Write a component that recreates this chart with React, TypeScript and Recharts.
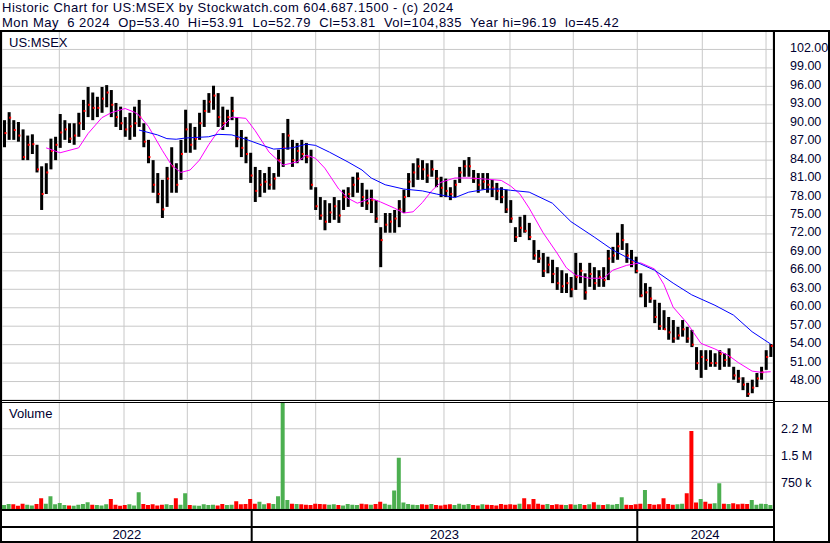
import React from 'react';
import { ComposedChart, Bar, Line, XAxis, YAxis, CartesianGrid, Cell, ReferenceLine } from 'recharts';

// one bar = 3 trading days, May 2022 .. May 6 2024
const highs = [
  90.5, 91.8, 90.5, 90.2, 89.0, 88.0, 88.2, 86.5, 83.0, 83.5,
  87.5, 87.8, 91.5, 90.5, 90.0, 90.0, 91.7, 93.8, 95.9, 95.0,
  94.3, 95.9, 96.2, 95.4, 93.3, 92.7, 91.0, 91.7, 92.7, 93.8,
  90.0, 87.3, 84.0, 81.9, 80.8, 82.9, 86.1, 83.5, 87.3, 92.2,
  90.0, 89.4, 91.7, 93.8, 94.9, 96.1, 94.9, 92.7, 92.2, 94.3,
  91.0, 88.9, 87.8, 85.2, 82.9, 82.4, 81.9, 82.9, 81.9, 85.7,
  88.4, 90.7, 87.3, 86.8, 87.3, 86.8, 85.7, 79.6, 78.0, 77.5,
  77.0, 78.0, 77.5, 79.2, 79.6, 81.3, 82.0, 80.3, 79.2, 79.2,
  77.5, 73.1, 75.4, 75.4, 75.9, 77.5, 79.2, 81.9, 83.5, 84.3,
  84.0, 83.5, 84.0, 82.4, 81.3, 81.0, 79.6, 80.8, 82.9, 84.0,
  84.5, 82.4, 81.9, 81.9, 81.9, 80.8, 80.3, 79.6, 79.2, 77.5,
  73.1, 74.8, 75.1, 73.8, 71.0, 69.4, 68.9, 68.3, 67.8, 66.6,
  66.1, 65.6, 65.0, 68.9, 67.3, 65.6, 67.3, 66.6, 66.1, 66.6,
  69.4, 69.9, 72.2, 73.6, 70.5, 69.4, 68.3, 65.6, 64.0, 63.4,
  61.3, 60.8, 59.6, 58.5, 58.0, 56.9, 58.0, 56.9, 56.4, 53.6,
  53.1, 53.1, 53.1, 52.6, 53.1, 52.6, 53.4, 50.4, 49.9, 48.7,
  47.8, 48.3, 49.4, 50.4, 53.1, 54.1,
];
const lows = [
  86.1, 87.3, 87.3, 87.0, 84.0, 84.0, 85.0, 82.0, 75.9, 78.5,
  82.5, 84.0, 86.0, 87.3, 86.8, 86.5, 87.8, 88.9, 91.0, 90.5,
  91.0, 91.7, 92.6, 91.0, 89.4, 88.9, 87.8, 87.3, 87.8, 89.4,
  86.1, 83.5, 78.7, 77.0, 74.6, 76.4, 78.7, 78.7, 80.8, 85.2,
  85.2, 85.7, 87.3, 89.4, 91.7, 92.2, 89.4, 88.9, 89.4, 90.5,
  86.1, 84.5, 83.5, 80.3, 77.2, 78.0, 78.7, 79.2, 79.2, 81.3,
  82.9, 85.7, 82.9, 83.5, 84.0, 83.5, 79.2, 75.9, 74.3, 72.6,
  73.8, 74.3, 73.8, 75.9, 76.4, 78.0, 78.7, 76.4, 75.9, 75.4,
  73.8, 66.6, 72.2, 72.2, 72.2, 73.1, 75.4, 78.0, 79.6, 80.8,
  80.8, 80.3, 81.3, 79.6, 78.0, 78.0, 77.5, 78.0, 80.3, 81.3,
  81.3, 80.3, 78.7, 79.2, 78.7, 78.0, 77.5, 77.0, 75.4, 73.8,
  70.7, 71.5, 72.2, 71.0, 67.8, 67.3, 65.0, 65.6, 64.0, 62.9,
  62.4, 62.4, 61.7, 62.9, 64.0, 61.3, 63.4, 62.9, 63.4, 63.4,
  64.5, 67.3, 67.8, 69.4, 67.3, 66.6, 65.6, 61.7, 60.1, 60.8,
  57.5, 56.4, 56.4, 54.8, 54.3, 54.8, 55.3, 54.3, 53.6, 49.9,
  48.6, 49.9, 50.4, 50.4, 49.9, 50.4, 50.4, 48.3, 47.8, 46.6,
  45.5, 46.1, 47.1, 48.3, 49.9, 52.0,
];
const closes = [
  88.4, 90.9, 88.9, 88.0, 84.5, 86.5, 86.6, 82.5, 78.5, 82.0,
  85.5, 86.5, 88.5, 89.0, 87.5, 88.0, 90.0, 92.0, 93.0, 92.5,
  92.5, 94.0, 95.0, 93.0, 91.0, 90.0, 89.0, 89.5, 90.0, 91.0,
  87.0, 84.5, 80.0, 78.5, 76.0, 81.0, 83.0, 80.0, 85.0, 89.0,
  86.5, 87.5, 90.0, 92.0, 93.5, 94.5, 91.0, 90.0, 91.0, 92.0,
  87.5, 86.0, 85.0, 81.5, 79.0, 80.0, 80.5, 80.0, 81.0, 84.0,
  86.0, 88.0, 84.0, 85.5, 85.0, 84.5, 80.0, 76.5, 75.0, 74.0,
  75.5, 76.5, 75.0, 78.0, 78.5, 80.0, 81.0, 78.0, 77.0, 77.5,
  74.5, 71.0, 73.5, 74.0, 74.5, 76.0, 78.0, 80.5, 82.0, 83.0,
  82.5, 81.5, 82.5, 81.0, 79.5, 79.0, 78.5, 80.0, 82.0, 83.0,
  83.0, 81.0, 80.0, 80.5, 80.0, 79.5, 79.0, 78.0, 76.0, 74.5,
  71.5, 73.0, 72.5, 71.5, 68.5, 68.0, 66.0, 67.0, 65.5, 64.0,
  63.5, 64.0, 63.0, 65.0, 66.0, 62.5, 65.5, 64.0, 65.0, 64.5,
  68.0, 68.5, 70.0, 71.0, 68.5, 67.5, 66.0, 62.0, 62.5, 61.5,
  58.5, 57.0, 56.5, 56.0, 55.0, 55.5, 56.5, 55.0, 54.0, 51.0,
  52.0, 51.5, 51.0, 51.0, 52.5, 51.5, 52.0, 49.0, 48.5, 47.5,
  46.0, 47.0, 48.5, 49.5, 52.0, 53.8,
];
// thousands of shares
const volumes = [
  110, 140, 130, 90, 150, 120, 100, 140, 300, 150,
  360, 130, 170, 110, 100, 90, 120, 140, 190, 120,
  110, 100, 130, 280, 120, 90, 110, 130, 100, 470,
  140, 110, 130, 100, 120, 130, 110, 300, 120, 440,
  110, 100, 90, 130, 110, 120, 100, 140, 110, 120,
  220, 130, 140, 280, 150, 200, 130, 160, 140, 360,
  2990, 250, 150, 140, 130, 120, 110, 150, 140, 130,
  120, 130, 110, 100, 140, 120, 110, 150, 130, 120,
  140, 200, 150, 120, 520, 1440, 180, 140, 120, 110,
  130, 120, 140, 110, 100, 120, 130, 110, 150, 120,
  140, 110, 100, 130, 120, 110, 100, 140, 120, 130,
  120, 150, 300, 130, 280, 150, 120, 140, 110, 130,
  120, 110, 130, 120, 140, 110, 130, 190, 120, 110,
  130, 120, 140, 330, 120, 110, 130, 150, 530, 140,
  120, 130, 300, 140, 120, 130, 150, 440, 2190, 180,
  280, 200, 150, 160, 720, 150, 140, 160, 130, 150,
  140, 250, 120, 150, 140, 110,
];
// moving averages: [bar, value]
const maFast: [number, number][] = [
  [9, 86.0], [12, 85.2], [16, 86.0], [18, 88.3], [21, 90.9], [23, 91.7], [26, 92.4], [28, 91.8],
  [29, 91.3], [31, 89.5], [34, 85.6], [36, 83.2], [38, 82.0], [40, 82.4], [42, 84.0], [44, 86.5],
  [46, 88.7], [49, 91.0], [52, 90.8], [54, 88.8], [57, 85.3], [60, 83.2], [63, 83.7], [65, 84.8],
  [67, 84.3], [69, 82.7], [72, 79.3], [74, 77.8], [76, 77.0], [79, 77.8], [81, 77.2], [84, 76.2],
  [86, 75.4], [88, 75.6], [90, 77.1], [92, 79.0], [94, 80.4], [97, 81.1], [100, 81.1], [104, 80.9],
  [107, 80.7], [109, 79.8], [111, 78.5], [113, 76.2], [116, 72.2], [119, 68.9], [121, 66.5], [123, 65.3],
  [126, 64.8], [129, 64.8], [131, 66.1], [134, 66.9], [137, 67.3], [140, 66.3], [142, 63.8], [144, 60.1],
  [147, 57.5], [150, 54.2], [153, 53.3], [156, 52.2], [158, 51.1], [161, 49.7], [163, 49.5], [165, 49.6],
];
const maSlow: [number, number][] = [
  [29, 88.9], [33, 88.1], [35, 87.5], [37, 87.4], [39, 87.6], [44, 87.8], [46, 88.2], [49, 88.1],
  [52, 87.4], [56, 86.3], [58, 85.8], [62, 86.0], [65, 86.6], [67, 86.4], [70, 85.3], [74, 83.7],
  [77, 82.4], [79, 81.1], [82, 80.0], [86, 79.3], [90, 79.0], [93, 78.5], [97, 77.9], [100, 78.8],
  [104, 79.3], [107, 79.3], [109, 79.1], [113, 78.8], [118, 77.0], [122, 74.0], [127, 71.5], [131, 69.4],
  [135, 67.8], [140, 66.1], [144, 64.0], [148, 62.1], [153, 60.4], [157, 58.8], [161, 56.1], [165, 54.1],
];

const monthTicks = [
  4.82, 11.84, 18.45, 25.77, 32.51, 39.4, 46.44, 53.26, 60.43, 67.04, 73.84, 80.73,
  87.84, 94.66, 101.7, 108.87, 115.18, 122.5, 129.69, 136.28, 143.54, 150.28, 157.1, 164.0,
];
const yearBreaks = [53.26, 136.28];
const yearLabels = ['2022', '2023', '2024'];
const priceTicks = [48, 51, 54, 57, 60, 63, 66, 69, 72, 75, 78, 81, 84, 87, 90, 93, 96, 99, 102];
const volTicks = [750, 1500, 2250];
const volTickLabels = ['750 k', '1.5 M', '2.2 M'];

const N = closes.length;
const X_DOMAIN: [number, number] = [-0.5, N - 0.5];
const fastMap = new Map(maFast);
const slowMap = new Map(maSlow);

const data = closes.map((c, i) => ({
  i,
  range: [lows[i], highs[i]],
  high: highs[i],
  low: lows[i],
  close: c,
  vol: volumes[i],
  up: i === 0 ? true : c >= closes[i - 1],
  fast: fastMap.has(i) ? fastMap.get(i) : null,
  slow: slowMap.has(i) ? slowMap.get(i) : null,
}));

const yearEdges = [X_DOMAIN[0], ...yearBreaks, X_DOMAIN[1]];
const yearMids = yearLabels.map((_, k) => (yearEdges[k] + yearEdges[k + 1]) / 2);

const FONT = '"Liberation Sans", Arial, sans-serif';
const TEXT = '#000030';
const GRID = '#c8c8c8';

const PriceBar = (props: any) => {
  const { x, y, width, height, payload } = props;
  const top = height < 0 ? y + height : y;
  const h = Math.max(Math.abs(height), 1);
  const cx = x + width / 2;
  const span = payload.high - payload.low || 1;
  const cy = top + (h * (payload.high - payload.close)) / span;
  return (
    <g>
      <rect x={cx - 1.5} y={top} width={3} height={h} fill="#000" />
      <rect x={cx} y={cy - 1} width={2} height={2} fill="#ff0000" />
    </g>
  );
};

const PriceTick = (props: any) => {
  const { x, y, payload } = props;
  return (
    <text x={x + 15} y={y + 2.5} fontSize={12.5} fontFamily={FONT} fill={TEXT} textAnchor="start">
      {Number(payload.value).toFixed(2)}
    </text>
  );
};

const VolTick = (props: any) => {
  const { x, y, payload } = props;
  const k = volTicks.indexOf(payload.value);
  return (
    <text x={x + 6} y={y + 4.5} fontSize={12.5} fontFamily={FONT} fill={TEXT} textAnchor="start">
      {volTickLabels[k]}
    </text>
  );
};

const YearLabel = (props: any) => {
  const { viewBox, value } = props;
  return (
    <text x={viewBox.x} y={viewBox.y + viewBox.height - 2} fontSize={13} fontFamily={FONT} fill={TEXT} textAnchor="middle">
      {value}
    </text>
  );
};

export default function App() {
  return (
    <div style={{ position: 'relative', width: 830, height: 543, background: '#fff', overflow: 'hidden' }}>
      <style>{'body{margin:0}'}</style>

      <div style={{ position: 'absolute', left: 2, top: 31 }}>
        <ComposedChart width={827} height={369} data={data} margin={{ top: 0, right: 0, bottom: 0, left: 0 }}>
          <CartesianGrid stroke={GRID} strokeWidth={1} />
          <XAxis dataKey="i" type="number" domain={X_DOMAIN} ticks={monthTicks} hide />
          <YAxis
            orientation="right"
            domain={[45, 105]}
            ticks={priceTicks}
            interval={0}
            width={56}
            axisLine={false}
            tickLine={false}
            tickSize={0}
            tick={<PriceTick />}
          />
          <Bar dataKey="range" shape={<PriceBar />} barSize={3} isAnimationActive={false} />
          <Line dataKey="fast" stroke="#ff00ff" strokeWidth={1} dot={false} connectNulls isAnimationActive={false} />
          <Line dataKey="slow" stroke="#0000ff" strokeWidth={1} dot={false} connectNulls isAnimationActive={false} />
        </ComposedChart>
      </div>

      <div style={{ position: 'absolute', left: 2, top: 402 }}>
        <ComposedChart width={827} height={107} data={data} margin={{ top: 0, right: 0, bottom: 0, left: 0 }}>
          <CartesianGrid stroke={GRID} strokeWidth={1} />
          <XAxis dataKey="i" type="number" domain={X_DOMAIN} ticks={monthTicks} hide />
          <YAxis
            orientation="right"
            domain={[0, 3000]}
            allowDataOverflow
            ticks={volTicks}
            interval={0}
            width={56}
            axisLine={false}
            tickLine={false}
            tickSize={0}
            tick={<VolTick />}
          />
          <Bar dataKey="vol" barSize={4} isAnimationActive={false}>
            {data.map((d) => (
              <Cell key={d.i} fill={d.up ? '#4caf50' : '#ff0000'} />
            ))}
          </Bar>
        </ComposedChart>
      </div>

      <div style={{ position: 'absolute', left: 2, top: 510 }}>
        <ComposedChart width={771} height={31} data={data} margin={{ top: 0, right: 0, bottom: 0, left: 0 }}>
          <XAxis dataKey="i" type="number" domain={X_DOMAIN} hide />
          <YAxis hide domain={[0, 1]} allowDataOverflow />
          <Line dataKey="close" stroke="none" dot={false} isAnimationActive={false} />
          {yearBreaks.map((b) => (
            <ReferenceLine key={b} x={b} stroke="#000" strokeWidth={2} ifOverflow="visible" />
          ))}
          {yearMids.map((m, k) => (
            <ReferenceLine
              key={yearLabels[k]}
              x={m}
              stroke="none"
              ifOverflow="visible"
              label={<YearLabel value={yearLabels[k]} />}
            />
          ))}
        </ComposedChart>
      </div>

      <svg width={830} height={543} style={{ position: 'absolute', left: 0, top: 0, pointerEvents: 'none' }}>
        <g fontFamily={FONT} fill={TEXT}>
          <text x={2} y={12} fontSize={13} letterSpacing={0.5} style={{ whiteSpace: 'pre' }}>
            Historic Chart for US:MSEX by Stockwatch.com 604.687.1500 - (c) 2024
          </text>
          <text x={2} y={27} fontSize={13} letterSpacing={0.5} style={{ whiteSpace: 'pre' }}>
            {'Mon May  6 2024  Op=53.40  Hi=53.91  Lo=52.79  Cl=53.81  Vol=104,835  Year hi=96.19  lo=45.42'}
          </text>
          <text x={9} y={46.5} fontSize={13}>US:MSEX</text>
          <text x={9} y={418} fontSize={13}>Volume</text>
        </g>
        <g fill="#000">
          <rect x={0} y={30} width={830} height={2} />
          <rect x={0} y={30} width={2} height={513} />
          <rect x={828} y={30} width={2} height={513} />
          <rect x={0} y={541} width={830} height={2} />
          <rect x={773} y={30} width={2} height={513} />
          <rect x={0} y={400} width={775} height={1} />
          <rect x={0} y={402} width={775} height={1} />
          <rect x={775} y={401} width={55} height={1} />
          <rect x={0} y={509} width={775} height={2} />
          <rect x={0} y={526} width={775} height={2} />
        </g>
      </svg>
    </div>
  );
}
